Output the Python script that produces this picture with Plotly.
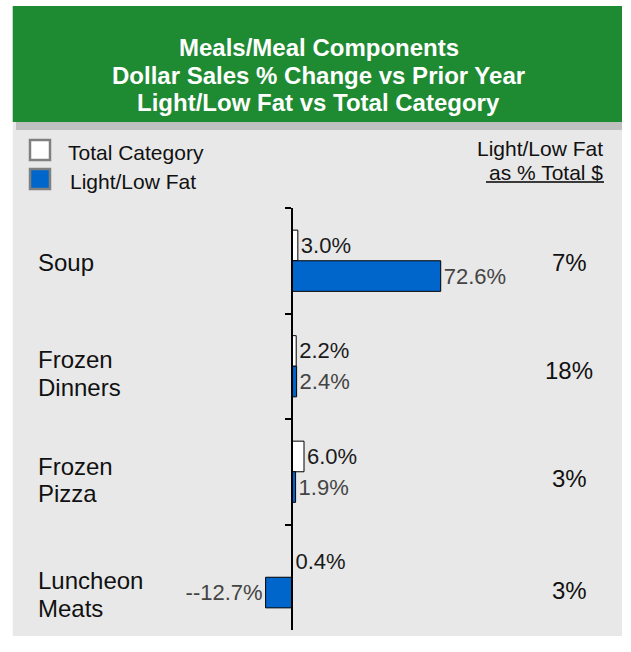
import plotly.graph_objects as go

# ---- data ----
categories = ["Soup", "Frozen Dinners", "Frozen Pizza", "Luncheon Meats"]
category_lines = [["Soup"], ["Frozen", "Dinners"], ["Frozen", "Pizza"], ["Luncheon", "Meats"]]
total_category = [3.0, 2.2, 6.0, 0.4]
light_low_fat = [72.6, 2.4, 1.9, -12.7]
share_of_total = [7, 18, 3, 3]  # Light/Low Fat as % of total dollars

title_lines = [
    "Meals/Meal Components",
    "Dollar Sales % Change vs Prior Year",
    "Light/Low Fat vs Total Category",
]

# ---- page geometry helpers (pixels -> paper fractions) ----
W, H = 631, 652
FONT = "'Liberation Sans', Arial, sans-serif"


def px(x):
    return x / W


def py(y):
    return 1 - y / H


def pct_label(v):
    # negative values carry an extra leading dash in the printed labels
    return ("-" if v < 0 else "") + f"{v:.1f}%"


GREEN = "#1e8a31"
PANEL = "#e8e8e8"
SHADOW = "#c0c0c0"
BLUE = "#0066cc"

fig = go.Figure()

fig.add_trace(go.Bar(
    name="Total Category",
    y=categories,
    x=total_category,
    orientation="h",
    marker=dict(color="white", line=dict(color="black", width=1)),
    text=[pct_label(v) for v in total_category],
    textposition="outside",
    textfont=dict(family=FONT, size=22, color="#1a1a1a"),
    cliponaxis=False,
    constraintext="none",
    hoverinfo="skip",
))
fig.add_trace(go.Bar(
    name="Light/Low Fat",
    y=categories,
    x=light_low_fat,
    orientation="h",
    marker=dict(color=BLUE, line=dict(color="black", width=1)),
    text=[pct_label(v) for v in light_low_fat],
    textposition="outside",
    textfont=dict(family=FONT, size=22, color="#444444"),
    cliponaxis=False,
    constraintext="none",
    hoverinfo="skip",
))

shapes = [
    # green header band
    dict(type="rect", xref="paper", yref="paper", x0=px(12.7), x1=px(622), y0=py(122), y1=py(6),
         fillcolor=GREEN, line=dict(width=0), layer="below"),
    # light grey panel
    dict(type="rect", xref="paper", yref="paper", x0=px(12.7), x1=px(622), y0=py(636), y1=py(122),
         fillcolor=PANEL, line=dict(width=0), layer="below"),
    # shadow strip under the header
    dict(type="rect", xref="paper", yref="paper", x0=px(16), x1=px(622), y0=py(130), y1=py(122),
         fillcolor=SHADOW, line=dict(width=0), layer="below"),
    # legend swatches
    dict(type="rect", xref="paper", yref="paper", x0=px(30), x1=px(50), y0=py(160), y1=py(140),
         fillcolor="white", line=dict(color="#808080", width=2.5)),
    dict(type="rect", xref="paper", yref="paper", x0=px(30), x1=px(50), y0=py(189), y1=py(169),
         fillcolor=BLUE, line=dict(color="#808080", width=2.5)),
    # underline for the column header
    dict(type="line", xref="paper", yref="paper", x0=px(486), x1=px(604), y0=py(182), y1=py(182),
         line=dict(color="black", width=1.5)),
]

annotations = []

# header title, one line at a time
for text, yc in zip(title_lines, [47, 75, 103]):
    annotations.append(dict(
        text=f"<b>{text}</b>", xref="paper", yref="paper", x=px(319), y=py(yc),
        xanchor="center", yanchor="middle", showarrow=False,
        font=dict(family=FONT, size=24, color="white"),
    ))

# legend entries
annotations.append(dict(text="Total Category", xref="paper", yref="paper", x=px(66), y=py(153),
                        xanchor="left", yanchor="middle", showarrow=False,
                        font=dict(family=FONT, size=21, color="#111111")))
annotations.append(dict(text="Light/Low Fat", xref="paper", yref="paper", x=px(68), y=py(182),
                        xanchor="left", yanchor="middle", showarrow=False,
                        font=dict(family=FONT, size=21, color="#111111")))

# right-hand column header
annotations.append(dict(text="Light/Low Fat", xref="paper", yref="paper", x=px(605), y=py(148),
                        xanchor="right", yanchor="middle", showarrow=False,
                        font=dict(family=FONT, size=21, color="#111111")))
annotations.append(dict(text="as % Total $", xref="paper", yref="paper", x=px(605), y=py(172),
                        xanchor="right", yanchor="middle", showarrow=False,
                        font=dict(family=FONT, size=21, color="#111111")))

# category names on the left (one annotation per line for tight leading)
label_centers = [262, 373, 480, 594]
LINE_STEP = 28
for lines, yc in zip(category_lines, label_centers):
    n = len(lines)
    for i, text in enumerate(lines):
        y_line = yc + (i - (n - 1) / 2) * LINE_STEP
        annotations.append(dict(
            text=text, xref="paper", yref="paper", x=px(36), y=py(y_line),
            xanchor="left", yanchor="middle", align="left", showarrow=False,
            font=dict(family=FONT, size=24, color="#111111"),
        ))

# share column on the right
share_centers = [262, 370, 478, 590]
for v, yc in zip(share_of_total, share_centers):
    annotations.append(dict(
        text=f"{v}%", xref="paper", yref="paper", x=px(569), y=py(yc),
        xanchor="center", yanchor="middle", showarrow=False,
        font=dict(family=FONT, size=24, color="#111111"),
    ))

# bar area: zero line at x = 291.7 px, 72.6 ends near 441 px
x_range = [-70, 120]
x_left_px, x_right_px = 148.0, 538.0

fig.update_layout(
    width=W, height=H,
    margin=dict(l=0, r=0, t=0, b=0),
    paper_bgcolor="white",
    plot_bgcolor="rgba(0,0,0,0)",
    barmode="group",
    bargap=0.42,
    bargroupgap=0,
    showlegend=False,
    xaxis=dict(domain=[px(x_left_px), px(x_right_px)], range=x_range, visible=False, fixedrange=True),
    yaxis=dict(
        domain=[py(630), py(208)],
        type="category",
        categoryorder="array",
        categoryarray=categories,
        range=[3.5, -0.5],
        anchor="free",
        position=px(291.7),
        showline=True, linecolor="black", linewidth=1.5,
        ticks="outside", ticklen=6, tickwidth=1.5, tickcolor="black",
        tickson="boundaries",
        showticklabels=False,
        showgrid=False, zeroline=False, fixedrange=True,
    ),
    shapes=shapes,
    annotations=annotations,
    font=dict(family=FONT),
)

fig.write_html("out.html")
